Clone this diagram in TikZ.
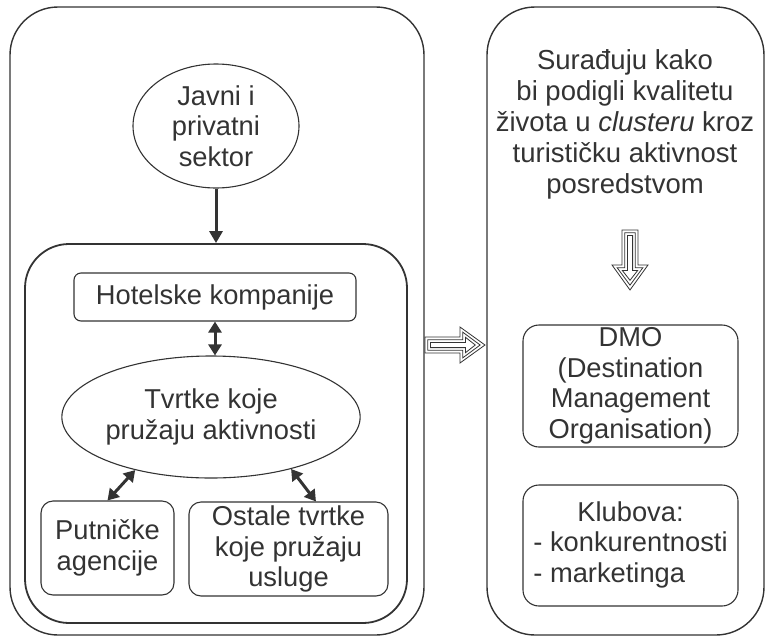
\documentclass[tikz,border=0pt]{standalone}
\usepackage{fontspec}
\setmainfont{Liberation Sans}
\usetikzlibrary{arrows.meta}
\usetikzlibrary{shapes.geometric}

\definecolor{ink}{gray}{0.2}

\begin{document}
\begin{tikzpicture}[x=1pt,y=-1pt,
    every node/.style={text=ink,font=\fontsize{27.3}{30.5}\selectfont,align=center,inner sep=0pt},
    bigbox/.style={draw=ink,line width=1.4pt,rounded corners=48pt},
    smallbox/.style={draw=ink,line width=1.1pt,rounded corners=12pt},
    oval/.style={draw=ink,line width=1.1pt,ellipse},
    link/.style={draw=ink,line width=3pt,-{Triangle[length=12pt,width=13pt]}},
    twolink/.style={draw=ink,line width=3pt,{Triangle[length=11pt,width=13pt]}-{Triangle[length=11pt,width=13pt]}},
    hollow/.style={draw=ink,line width=0.8pt,line join=miter}]
    \useasboundingbox (0,0) rectangle (766,638);
    % the two big frames
    \node (left) at (217,321) [bigbox,minimum width=414pt,minimum height=628pt] {};
    \node (right) at (625.5,321) [bigbox,minimum width=277pt,minimum height=628pt] {};
    \node (inner) at (216,433.5) [bigbox,line width=1.8pt,rounded corners=44pt,minimum width=382pt,minimum height=379pt] {};
	\node (javni) at (216,126) [oval,minimum width=166pt,minimum height=124pt] {Javni i\\privatni\\sektor};
	\node (hotel) at (215,297) [smallbox,rounded corners=7pt,minimum width=282pt,minimum height=48pt] {Hotelske kompanije};
	\node (tvrtke) at (211,417) [oval,minimum width=230pt,minimum height=122pt] {Tvrtke koje\\pružaju aktivnosti};
	\node (putnicke) at (107.5,548) [smallbox,minimum width=133pt,minimum height=94pt] {Putničke\\agencije};
	\node (ostale) at (288.5,549) [smallbox,minimum width=199pt,minimum height=94pt] {Ostale tvrtke\\koje pružaju\\usluge};
	\node (surad) at (625,124) [font=\fontsize{27.5}{31}\selectfont] {Surađuju kako\\bi podigli kvalitetu\\života u \textit{clusteru} kroz\\turističku aktivnost\\posredstvom};
	\node (dmo) at (630.5,386) [smallbox,rounded corners=16pt,minimum width=215pt,minimum height=122pt] {DMO\\(Destination\\Management\\Organisation)};
	\node (klubova) at (630.5,545.5) [smallbox,rounded corners=16pt,minimum width=215pt,minimum height=121pt] {\begin{tabular}{@{}l@{}}\multicolumn{1}{@{}c@{}}{Klubova:}\\- konkurentnosti\\- marketinga\end{tabular}};
    \draw[link] (javni.south) -- (inner.north);
    \draw[twolink] (hotel.south) -- (hotel.south |- tvrtke.north);
    \draw[twolink] (tvrtke.-145) -- (putnicke.north);
    \draw[twolink] (tvrtke.-33) -- (ostale.60);
    % hollow arrows
    \coordinate (harr) at (425,345);
    \coordinate (varr) at (630,230);
	\foreach \pos/\turn in {harr/0,varr/-90}
	\foreach \d in {0,2.7,5.4}
	\draw[hollow,shift={(\pos)},rotate=\turn] (\d,{\d-8}) -- ({35+\d},{\d-8}) -- ({35+\d},{1.9*\d-18}) -- ({60-1.8*\d},0) -- ({35+\d},{18-1.9*\d}) -- ({35+\d},{8-\d}) -- (\d,{8-\d}) -- cycle;
\end{tikzpicture}
\end{document}
